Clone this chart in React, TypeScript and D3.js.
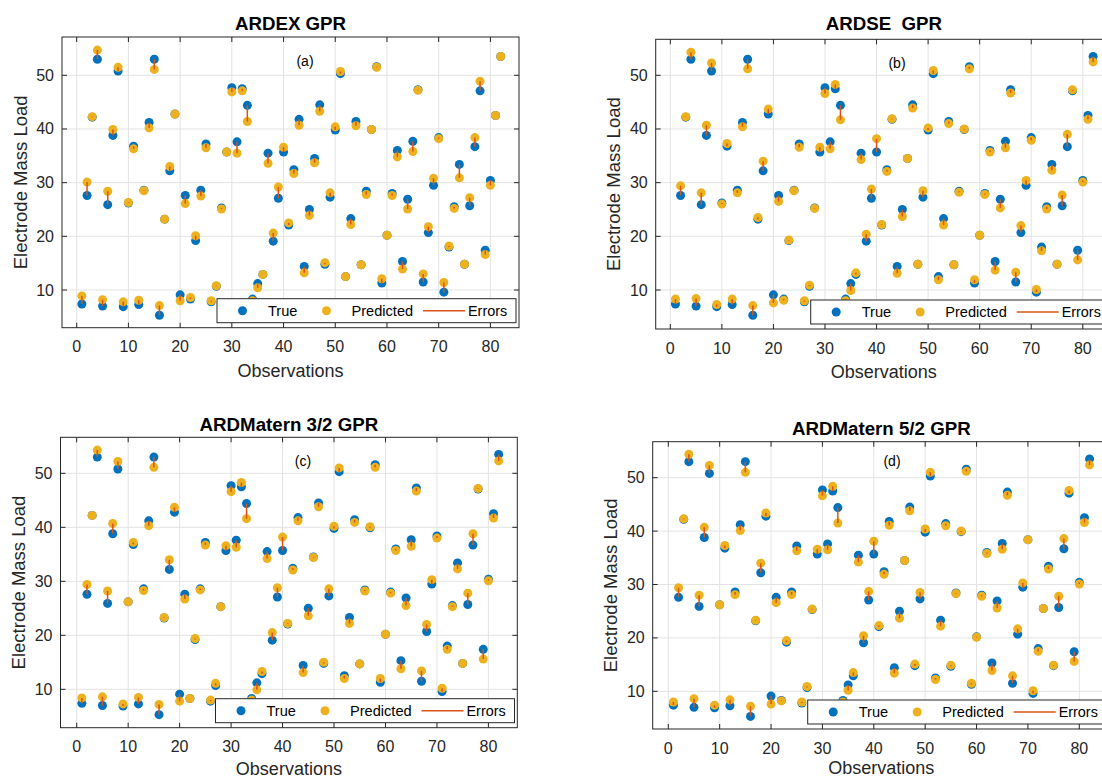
import React from 'react';
import * as d3 from 'd3';

// Observation index, 1..82
const OBS: number[] = d3.range(1, 83);

// Measured electrode mass load (shared by all four models)
const TRUE_LOAD = [
  7.4, 27.6, 42.2, 53.0, 7.0, 25.9, 38.8, 50.8, 6.9, 26.2,
  36.8, 7.3, 28.6, 41.2, 53.0, 5.3, 23.2, 32.2, 42.8, 9.1,
  27.6, 8.3, 19.2, 28.6, 37.2, 7.8, 10.7, 25.3, 35.7, 47.7,
  37.6, 47.5, 44.4, 8.3, 11.2, 12.9, 35.5, 19.1, 27.1, 35.7,
  22.1, 32.4, 41.8, 14.4, 25.0, 34.5, 44.5, 14.8, 27.3, 39.8,
  50.3, 12.5, 23.3, 41.4, 14.7, 28.4, 39.9, 51.6, 11.3, 20.2,
  28.0, 36.0, 15.3, 26.9, 37.7, 47.3, 11.5, 20.7, 29.5, 38.4,
  9.6, 18.0, 25.5, 33.4, 14.8, 25.7, 36.7, 47.1, 17.4, 30.4,
  42.5, 53.5,
];

// Model predictions
const PRED_ARDEX = [
  8.9, 30.1, 42.3, 54.7, 8.2, 28.4, 39.9, 51.5, 7.8, 26.3,
  36.3, 8.1, 28.5, 40.2, 51.1, 7.1, 23.2, 33.0, 42.8, 8.0,
  26.1, 8.6, 20.1, 27.5, 36.5, 8.0, 10.8, 25.1, 35.7, 46.9,
  35.5, 47.1, 41.4, 8.0, 10.4, 12.9, 33.6, 20.6, 29.2, 36.6,
  22.5, 31.7, 40.7, 13.2, 23.9, 33.7, 43.3, 15.1, 28.1, 40.4,
  50.7, 12.5, 22.2, 40.6, 14.7, 27.8, 39.9, 51.5, 12.1, 20.2,
  27.6, 34.8, 13.9, 25.1, 35.8, 47.2, 13.0, 21.8, 30.8, 38.2,
  11.4, 18.2, 25.2, 30.9, 14.8, 27.2, 38.4, 48.9, 16.6, 29.5,
  42.5, 53.5,
];

const PRED_ARDSE = [
  8.3, 29.4, 42.3, 54.3, 8.4, 28.1, 40.7, 52.3, 7.3, 26.0,
  37.3, 8.3, 28.1, 40.4, 51.2, 7.1, 23.5, 34.0, 43.7, 7.6,
  26.5, 8.1, 19.3, 28.5, 36.6, 8.0, 10.9, 25.2, 36.6, 46.6,
  36.3, 48.3, 41.7, 8.0, 9.9, 13.2, 34.3, 20.4, 28.8, 38.2,
  22.2, 32.1, 41.9, 13.1, 23.7, 34.5, 43.9, 14.8, 28.5, 40.2,
  50.9, 11.9, 22.1, 41.0, 14.7, 28.2, 40.0, 51.2, 11.9, 20.2,
  27.8, 35.7, 13.7, 25.3, 36.5, 46.7, 13.3, 22.0, 30.4, 37.9,
  10.1, 17.3, 25.1, 32.3, 14.8, 27.7, 39.0, 47.3, 15.6, 30.1,
  41.8, 52.5,
];

const PRED_MATERN32 = [
  8.4, 29.4, 42.2, 54.3, 8.6, 28.2, 40.7, 52.2, 7.3, 26.2,
  37.2, 8.5, 28.3, 40.3, 51.1, 7.2, 23.3, 34.0, 43.7, 7.8,
  26.7, 8.3, 19.4, 28.4, 36.7, 8.0, 11.1, 25.3, 36.6, 46.6,
  36.3, 48.3, 41.6, 8.0, 9.9, 13.3, 34.2, 20.5, 28.8, 38.2,
  22.2, 32.1, 41.2, 13.1, 23.6, 34.4, 43.8, 15.0, 28.6, 40.2,
  51.0, 12.0, 22.2, 40.9, 14.7, 28.2, 40.1, 51.1, 12.0, 20.2,
  27.8, 35.7, 13.8, 25.5, 36.5, 46.7, 13.4, 22.0, 30.3, 38.0,
  10.2, 17.4, 25.3, 32.3, 14.8, 27.8, 38.8, 47.2, 15.6, 30.1,
  41.7, 52.3,
];

const PRED_MATERN52 = [
  8.0, 29.4, 42.3, 54.4, 8.6, 28.0, 40.7, 52.3, 7.4, 26.2,
  37.3, 8.4, 28.1, 40.1, 51.0, 7.2, 23.3, 34.0, 43.4, 7.6,
  26.6, 8.2, 19.5, 28.1, 36.3, 8.0, 10.9, 25.4, 36.6, 46.6,
  36.5, 48.4, 41.5, 8.0, 10.2, 13.5, 34.2, 20.4, 28.7, 38.1,
  22.3, 31.9, 41.1, 13.4, 23.7, 34.5, 43.8, 15.1, 28.5, 40.4,
  51.0, 12.2, 22.2, 41.0, 14.9, 28.3, 40.0, 51.2, 11.5, 20.1,
  27.8, 35.8, 13.9, 25.6, 36.6, 46.7, 12.9, 21.7, 30.3, 38.4,
  10.1, 17.5, 25.5, 32.9, 14.9, 27.8, 38.6, 47.6, 15.6, 30.1,
  41.6, 52.4,
];

const X_TICKS = [0, 10, 20, 30, 40, 50, 60, 70, 80];
const Y_TICKS = [10, 20, 30, 40, 50];

const COLORS = {
  true: '#0072BD',
  pred: '#EDB120',
  err: '#D95319',
  axis: '#262626',
  grid: '#e3e3e3',
};

const FONT = '"Liberation Sans", Arial, Helvetica, sans-serif';

type Box = { l: number; r: number; t: number; b: number };
type Panel = {
  title: string;
  tag: string;
  pred: number[];
  box: Box;
  xPx: [number, number]; // pixel positions of obs 0 and obs 80
  yPx: [number, number]; // pixel positions of load 10 and load 50
  titleY: number;
  tagPos: [number, number];
  xLabelY: number;
};

const PANELS: Panel[] = [
  {
    title: 'ARDEX GPR', tag: '(a)', pred: PRED_ARDEX,
    box: { l: 62, r: 519, t: 37, b: 327.7 },
    xPx: [76.7, 490.4], yPx: [290, 75.3],
    titleY: 23.5, tagPos: [305, 61], xLabelY: 371,
  },
  {
    title: 'ARDSE  GPR', tag: '(b)', pred: PRED_ARDSE,
    box: { l: 655.7, r: 1112, t: 39.3, b: 329 },
    xPx: [670.3, 1082.8], yPx: [290, 75.3],
    titleY: 23.5, tagPos: [897, 63], xLabelY: 372,
  },
  {
    title: 'ARDMatern 3/2 GPR', tag: '(c)', pred: PRED_MATERN32,
    box: { l: 60.5, r: 517.3, t: 437.3, b: 727.7 },
    xPx: [76.7, 488.4], yPx: [689.3, 473.3],
    titleY: 424, tagPos: [303, 461], xLabelY: 768.5,
  },
  {
    title: 'ARDMatern 5/2 GPR', tag: '(d)', pred: PRED_MATERN52,
    box: { l: 652.7, r: 1110, t: 441.7, b: 729 },
    xPx: [668.3, 1079.3], yPx: [691.3, 477.7],
    titleY: 428, tagPos: [892, 461], xLabelY: 768,
  },
];

const R = 4.5;
const TICK = 5;

function PanelView({ p, idx }: { p: Panel; idx: number }) {
  const x = d3.scaleLinear().domain([0, 80]).range(p.xPx);
  const y = d3.scaleLinear().domain([10, 50]).range(p.yPx);
  const { box } = p;
  const clipId = `clip-${idx}`;
  const cx = (box.l + box.r) / 2;
  const cy = (box.t + box.b) / 2;
  const legL = box.l + 155;
  const legT = box.b - 29;
  const legMid = legT + 12;

  return (
    <g>
      <defs>
        <clipPath id={clipId}>
          <rect x={box.l} y={box.t} width={box.r - box.l} height={box.b - box.t} />
        </clipPath>
      </defs>
      <rect x={box.l} y={box.t} width={box.r - box.l} height={box.b - box.t} fill="#fff" />
      {/* grid */}
      <g stroke={COLORS.grid} strokeWidth={1}>
        {X_TICKS.map((t) => (
          <line key={`gx${t}`} x1={x(t)} x2={x(t)} y1={box.t} y2={box.b} />
        ))}
        {Y_TICKS.map((t) => (
          <line key={`gy${t}`} x1={box.l} x2={box.r} y1={y(t)} y2={y(t)} />
        ))}
      </g>
      <g clipPath={`url(#${clipId})`}>
        {OBS.map((o, i) => (
          <circle key={`t${o}`} cx={x(o)} cy={y(TRUE_LOAD[i])} r={R} fill={COLORS.true} />
        ))}
        {OBS.map((o, i) => (
          <circle key={`p${o}`} cx={x(o)} cy={y(p.pred[i])} r={R} fill={COLORS.pred} />
        ))}
        {OBS.map((o, i) => (
          <line
            key={`e${o}`}
            x1={x(o)} x2={x(o)}
            y1={y(TRUE_LOAD[i])} y2={y(p.pred[i])}
            stroke={COLORS.err} strokeWidth={1.5}
          />
        ))}
      </g>
      {/* axes box and inward ticks */}
      <g stroke={COLORS.axis} strokeWidth={1} fill="none">
        <rect x={box.l} y={box.t} width={box.r - box.l} height={box.b - box.t} />
        {X_TICKS.map((t) => (
          <g key={`tx${t}`}>
            <line x1={x(t)} x2={x(t)} y1={box.b} y2={box.b - TICK} />
            <line x1={x(t)} x2={x(t)} y1={box.t} y2={box.t + TICK} />
          </g>
        ))}
        {Y_TICKS.map((t) => (
          <g key={`ty${t}`}>
            <line x1={box.l} x2={box.l + TICK} y1={y(t)} y2={y(t)} />
            <line x1={box.r} x2={box.r - TICK} y1={y(t)} y2={y(t)} />
          </g>
        ))}
      </g>
      {/* tick labels */}
      <g fill={COLORS.axis} fontFamily={FONT} fontSize={16}>
        {X_TICKS.map((t) => (
          <text key={`lx${t}`} x={x(t)} y={box.b + 19} textAnchor="middle" dominantBaseline="central">
            {t}
          </text>
        ))}
        {Y_TICKS.map((t) => (
          <text key={`ly${t}`} x={box.l - 8} y={y(t)} textAnchor="end" dominantBaseline="central">
            {t}
          </text>
        ))}
      </g>
      {/* labels and title */}
      <text
        x={cx} y={p.titleY} textAnchor="middle" dominantBaseline="central"
        fontFamily={FONT} fontSize={18.7} fontWeight="bold" fill="#000"
        style={{ whiteSpace: 'pre' }}
      >
        {p.title}
      </text>
      <text
        x={cx} y={p.xLabelY} textAnchor="middle" dominantBaseline="central"
        fontFamily={FONT} fontSize={18} fill={COLORS.axis}
      >
        Observations
      </text>
      <text
        transform={`translate(${box.l - 42},${cy}) rotate(-90)`}
        textAnchor="middle" dominantBaseline="central"
        fontFamily={FONT} fontSize={18.5} fill={COLORS.axis}
      >
        Electrode Mass Load
      </text>
      <text
        x={p.tagPos[0]} y={p.tagPos[1]} textAnchor="middle" dominantBaseline="central"
        fontFamily={FONT} fontSize={14} fill="#000"
      >
        {p.tag}
      </text>
      {/* legend */}
      <g>
        <rect x={legL} y={legT} width={299} height={24} fill="#fff" stroke={COLORS.axis} strokeWidth={1} />
        <circle cx={legL + 25.5} cy={legMid} r={R} fill={COLORS.true} />
        <text x={legL + 51} y={legMid} dominantBaseline="central" fontFamily={FONT} fontSize={14.6} fill="#000">True</text>
        <circle cx={legL + 109.5} cy={legMid} r={R} fill={COLORS.pred} />
        <text x={legL + 134.5} y={legMid} dominantBaseline="central" fontFamily={FONT} fontSize={14.6} fill="#000">Predicted</text>
        <line x1={legL + 206} x2={legL + 248} y1={legMid} y2={legMid} stroke={COLORS.err} strokeWidth={1.5} />
        <text x={legL + 251} y={legMid} dominantBaseline="central" fontFamily={FONT} fontSize={14.4} fill="#000">Errors</text>
      </g>
    </g>
  );
}

export default function App() {
  return (
    <svg
      width={1102}
      height={778}
      viewBox="0 0 1102 778"
      style={{ position: 'absolute', left: 0, top: 0, background: '#fff' }}
    >
      <rect x={0} y={0} width={1102} height={778} fill="#fff" />
      {PANELS.map((p, i) => (
        <PanelView key={p.tag} p={p} idx={i} />
      ))}
    </svg>
  );
}
